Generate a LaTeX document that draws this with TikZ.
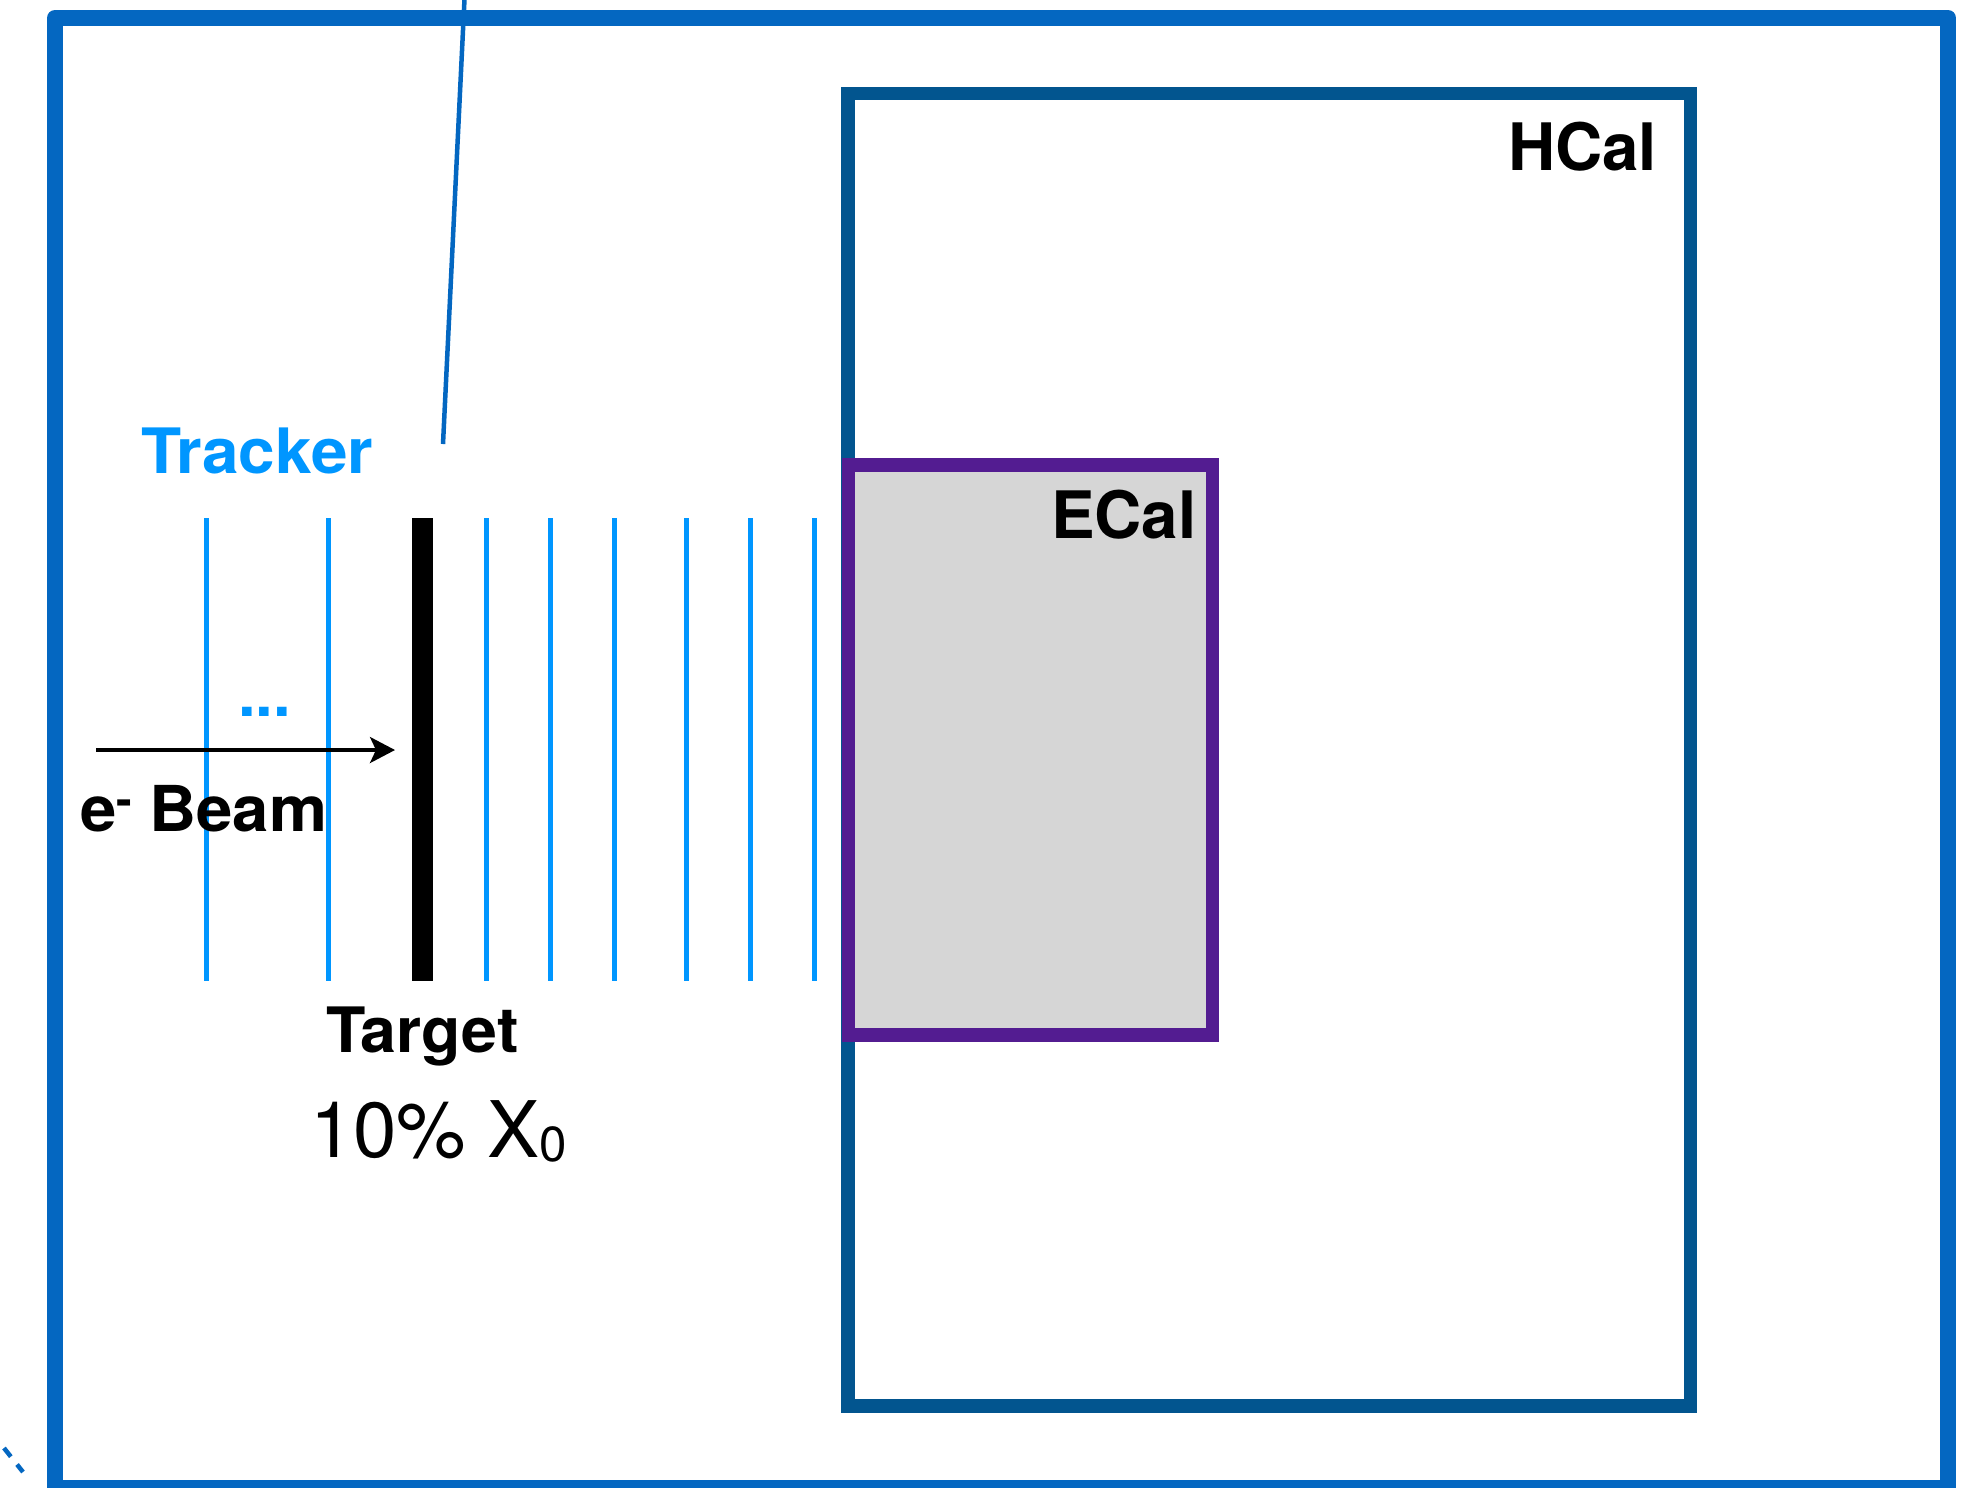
\documentclass[tikz,border=0pt]{standalone}
\usepackage{fontspec}
\setmainfont{TeX Gyre Heros}
\usetikzlibrary{arrows.meta}
\definecolor{frameblue}{HTML}{0467C1}
\definecolor{hcalblue}{HTML}{02558F}
\definecolor{ecalpurple}{HTML}{531C91}
\definecolor{ecalgray}{HTML}{D6D6D6}
\definecolor{trkblue}{HTML}{0096FF}
\tikzset{
  outerframe/.style={draw=frameblue, line width=0.16cm, line join=round},
  hcalbox/.style={draw=hcalblue, line width=0.135cm},
  ecalbox/.style={draw=ecalpurple, fill=ecalgray, line width=0.135cm},
  trkplane/.style={draw=trkblue, line width=0.05cm},
  lbl/.style={inner sep=0pt, outer sep=0pt, font=\fontsize{18}{20}\selectfont\bfseries},
  beamarrow/.style={draw=black, line width=0.033cm, -{Stealth[length=0.25cm,width=0.26cm,inset=0.06cm]}},
}
\begin{document}
\begin{tikzpicture}[x=0.01cm,y=-0.01cm]
\useasboundingbox (0,0) rectangle (1973,1487);
\clip (0,0) rectangle (1973,1487);
% outer frame
\draw[outerframe] (55,18) rectangle (1948,1488);
% line from top
\coordinate (topin) at (464.7,-5);
\coordinate (topend) at (443,444);
\draw[draw=frameblue, line width=0.045cm] (topin) -- (topend);
% dashed fragment bottom-left
\coordinate (dashA) at (4,1448);
\coordinate (dashB) at (23,1472);
\draw[draw=frameblue, line width=0.045cm, dash pattern=on 0.11cm off 0.10cm] (dashA) -- (dashB);
% HCal
\draw[hcalbox] (848,93.7) rectangle (1690.7,1406);
\node[lbl, anchor=base west, font=\fontsize{18.6}{20}\selectfont\bfseries] (hcal) at (1508,170) {HCal};
% ECal
\draw[ecalbox] (848.5,465) rectangle (1212.7,1035);
\node[lbl, anchor=base west, font=\fontsize{18.6}{20}\selectfont\bfseries] (ecal) at (1051,538) {ECal};
% tracker planes
\foreach \xx in {206,328.5,486.5,550,614.5,686.5,750,814}{
  \draw[trkplane] (\xx,518) -- (\xx,981);
}
% target
\fill[black] (412,518) rectangle (432.5,981);
% labels
\node[lbl, anchor=base west, text=trkblue, font=\fontsize{17.8}{20}\selectfont\bfseries\addfontfeature{FakeStretch=1.05}] (tracker) at (141,473) {Tracker};
\node[lbl, anchor=base west, text=trkblue] (dots) at (238,716) {...};
\node[lbl, anchor=base west, font=\fontsize{17.8}{20}\selectfont\bfseries\addfontfeature{FakeStretch=1.03}] (target) at (326,1052) {Target};
\node[lbl, anchor=base west, font=\fontsize{22.2}{24}\selectfont] (xzero) at (310,1157) {10\% X\raisebox{-1.4pt}{\fontsize{14}{14}\selectfont 0}};
\node[lbl, anchor=base west, font=\fontsize{18}{20}\selectfont\bfseries\addfontfeature{FakeStretch=1.03}] (beam) at (80,831) {e\raisebox{4.5pt}{\fontsize{13}{13}\selectfont -}\hspace{0.28em}Beam};
% beam arrow
\coordinate (beamstart) at (96,750);
\coordinate (beamend) at (395,750);
\draw[beamarrow] (beamstart) -- (beamend);
\end{tikzpicture}
\end{document}
